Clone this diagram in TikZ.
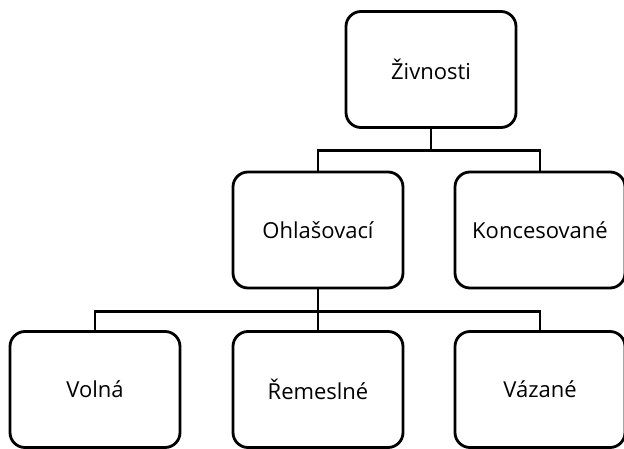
\documentclass[tikz,border=0pt]{standalone}
\usepackage{fontspec}
\setmainfont{Open Sans}
\usetikzlibrary{positioning}
\tikzset{
	every box/.style={draw, line width=2.8pt, rounded corners=15pt, minimum width=170pt, minimum height=116pt, inner sep=0pt, font=\fontsize{22}{26}\selectfont},
	link/.style={line width=2.8pt}
}
\begin{document}
\begin{tikzpicture}[x=1pt, y=1pt]
\useasboundingbox (0,0) rectangle (624,448);
% boxes
\node [every box] (zivnosti) at (431,378.5) {Živnosti};
\foreach \m/\l/\x in {ohl/Ohlašovací/318, konc/Koncesované/540}
	\node [every box] (\m) at (\x,218) {\l};
\foreach \m/\l/\x in {volna/Volná/95, rem/Řemeslné/318, vaz/Vázané/540}
	\node [every box] (\m) at (\x,58.5) {\l};

% connections
\foreach \j in {ohl,konc}
	\draw [link] (zivnosti.south) -- ++(0,-22) -| (\j.north);
\foreach \j in {volna,rem,vaz}
	\draw [link] (ohl.south) -- ++(0,-22) -| (\j.north);

\end{tikzpicture}
\end{document}
